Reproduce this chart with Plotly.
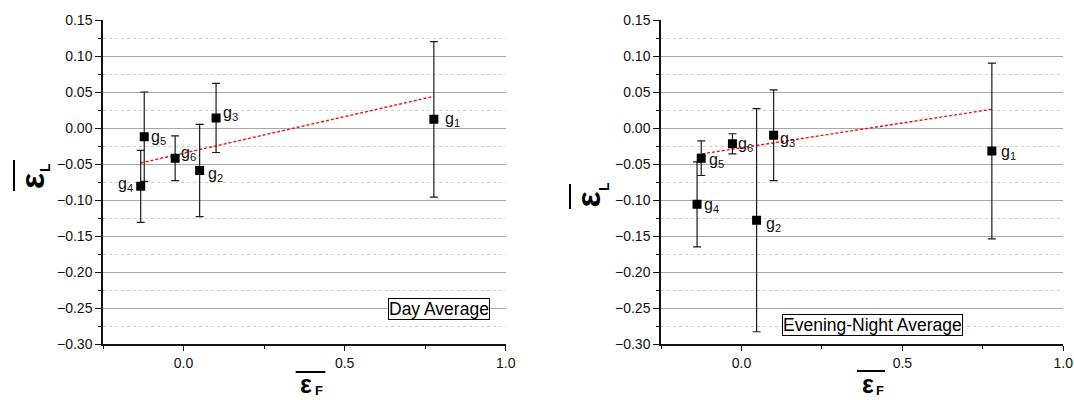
import plotly.graph_objects as go

# Group labels and mean deviations (x: eps_F, y: eps_L) with standard errors
groups = ["1", "2", "3", "4", "5", "6"]

day_x = [0.777, 0.050, 0.101, -0.133, -0.122, -0.026]
day_y = [0.012, -0.059, 0.014, -0.081, -0.012, -0.042]
day_err = [0.108, 0.064, 0.048, 0.050, 0.062, 0.031]
day_trend_x = [-0.133, 0.777]
day_trend_y = [-0.0486, 0.044]

night_x = [0.778, 0.047, 0.100, -0.138, -0.125, -0.028]
night_y = [-0.032, -0.128, -0.010, -0.106, -0.042, -0.022]
night_err = [0.122, 0.155, 0.063, 0.059, 0.024, 0.014]
night_trend_x = [-0.138, 0.778]
night_trend_y = [-0.037, 0.026]

# Label offsets (pixels) for each group label: (xshift, yshift, anchor)
day_label_pos = [(9, 0, "left"), (6, -4, "left"), (5, 4, "left"),
                 (-6, 2, "right"), (5, -1, "left"), (4, 5, "left")]
night_label_pos = [(7, -1, "left"), (7, -4, "left"), (4, -4, "left"),
                   (5, -1, "left"), (6, -2, "left"), (4, -1, "left")]

FONT = "Liberation Sans, Arial, sans-serif"
INK = "#111111"

fig = go.Figure()

panels = [
    ("x", "y", day_x, day_y, day_err, day_trend_x, day_trend_y, day_label_pos),
    ("x2", "y2", night_x, night_y, night_err, night_trend_x, night_trend_y, night_label_pos),
]

for xa, ya, xs, ys, errs, tx, ty, lpos in panels:
    fig.add_trace(go.Scatter(
        x=tx, y=ty, mode="lines", xaxis=xa, yaxis=ya,
        line=dict(color="#ee1111", width=1.4, dash="3px,2px"),
        showlegend=False, hoverinfo="skip",
    ))
    fig.add_trace(go.Scatter(
        x=xs, y=ys, mode="markers", xaxis=xa, yaxis=ya,
        marker=dict(symbol="square", size=9, color="black"),
        error_y=dict(type="data", array=errs, visible=True,
                     color="#1a1a1a", thickness=1.2, width=4),
        showlegend=False,
    ))
    for g, x, y, (dx, dy, anc) in zip(groups, xs, ys, lpos):
        fig.add_annotation(
            x=x, y=y, xref=xa, yref=ya, text=f"g<sub>{g}</sub>",
            showarrow=False, xanchor=anc, yanchor="middle",
            xshift=dx, yshift=dy,
            font=dict(family=FONT, size=16, color=INK),
        )

W, H = 1074, 400
x_dom1 = [103 / W, 505.7 / W]
x_dom2 = [661 / W, 1063.3 / W]
y_dom = [56 / H, 380 / H]

xcommon = dict(
    range=[-0.25, 1.0], tick0=0, dtick=0.5, tickformat=".1f",
    showline=True, linecolor=INK, linewidth=1.5,
    ticks="outside", ticklen=5, tickwidth=1.2, tickcolor=INK,
    showgrid=False, zeroline=False, automargin=False,
    tickfont=dict(family=FONT, size=14, color="#111111"),
    minor=dict(dtick=0.25, tick0=0, ticks="outside", ticklen=3,
               tickcolor=INK, showgrid=False),
)
ycommon = dict(
    range=[-0.30, 0.15], tick0=0, dtick=0.05, tickformat=".2f",
    showline=True, linecolor=INK, linewidth=1.5,
    ticks="outside", ticklen=6, tickwidth=1.2, tickcolor=INK,
    showgrid=True, gridcolor="#a8a8a8", gridwidth=1,
    zeroline=False, automargin=False,
    tickfont=dict(family=FONT, size=14, color="#111111"),
    minor=dict(dtick=0.025, tick0=0, ticks="outside", ticklen=3,
               tickcolor=INK, showgrid=True, gridcolor="#d0d0d0",
               griddash="dot", gridwidth=1),
)

fig.update_layout(
    width=W, height=H,
    margin=dict(l=0, r=0, t=0, b=0),
    paper_bgcolor="white", plot_bgcolor="white",
    xaxis=dict(domain=x_dom1, anchor="y", **xcommon),
    yaxis=dict(domain=y_dom, anchor="x", **ycommon),
    xaxis2=dict(domain=x_dom2, anchor="y2", **xcommon),
    yaxis2=dict(domain=y_dom, anchor="x2", **ycommon),
)

# The plot frame is open at the top: blank out the gridline on the upper edge
for dom in (x_dom1, x_dom2):
    fig.add_shape(type="line", xref="paper", yref="paper", layer="between",
                  x0=dom[0] + 1.5 / W, x1=dom[1] + 1 / W,
                  y0=y_dom[1], y1=y_dom[1],
                  line=dict(color="white", width=2))

# Panel captions
for text, cx, cy in [("Day Average", 438.5, 308.5),
                     ("Evening-Night Average", 872.3, 324.6)]:
    fig.add_annotation(
        x=cx / W, y=1 - cy / H, xref="paper", yref="paper",
        text=text, showarrow=False, xanchor="center", yanchor="middle",
        font=dict(family=FONT, size=17.5, color="black"),
        bgcolor="white", bordercolor="black", borderwidth=1, borderpad=0,
    )

# Axis titles: mean epsilon symbols with an overline bar
def paper(px, py):
    return px / W, 1 - py / H

# x titles: epsilon, subscript F, overline
for ex, fx, bx0, bx1, by in [(306.0, 318.5, 295.7, 325.3, 372),
                             (867.5, 879.5, 857.0, 885.0, 371)]:
    x, y = paper(ex, 399)
    fig.add_annotation(x=x, y=y, xref="paper", yref="paper", text="<b>ε</b>",
                       showarrow=False, xanchor="center", yanchor="bottom",
                       borderpad=0,
                       font=dict(family=FONT, size=25, color="black"))
    x, y = paper(fx, 390.5)
    fig.add_annotation(x=x, y=y, xref="paper", yref="paper", text="<b>F</b>",
                       showarrow=False, xanchor="center", yanchor="middle",
                       font=dict(family=FONT, size=13, color="black"))
    x0, y0 = paper(bx0, by)
    x1, _ = paper(bx1, by)
    fig.add_shape(type="line", xref="paper", yref="paper",
                  x0=x0, x1=x1, y0=y0, y1=y0,
                  line=dict(color="black", width=2))

# y titles: epsilon, subscript L, overline (rotated)
for ex, ey, lx, ly, bx, b0, b1 in [(31.5, 181.5, 45.5, 167.5, 14, 160, 191),
                                   (587.5, 200.0, 603.5, 186.5, 570, 184, 209)]:
    x, y = paper(ex, ey)
    fig.add_annotation(x=x, y=y, xref="paper", yref="paper", text="<b>ε</b>",
                       showarrow=False, textangle=-90,
                       xanchor="center", yanchor="middle",
                       font=dict(family=FONT, size=34, color="black"))
    x, y = paper(lx, ly)
    fig.add_annotation(x=x, y=y, xref="paper", yref="paper", text="<b>L</b>",
                       showarrow=False, textangle=-90,
                       xanchor="center", yanchor="middle",
                       font=dict(family=FONT, size=14, color="black"))
    x0, y0 = paper(bx, b0)
    _, y1 = paper(bx, b1)
    fig.add_shape(type="line", xref="paper", yref="paper",
                  x0=x0, x1=x0, y0=y0, y1=y1,
                  line=dict(color="black", width=2))

fig.write_html("out.html")
